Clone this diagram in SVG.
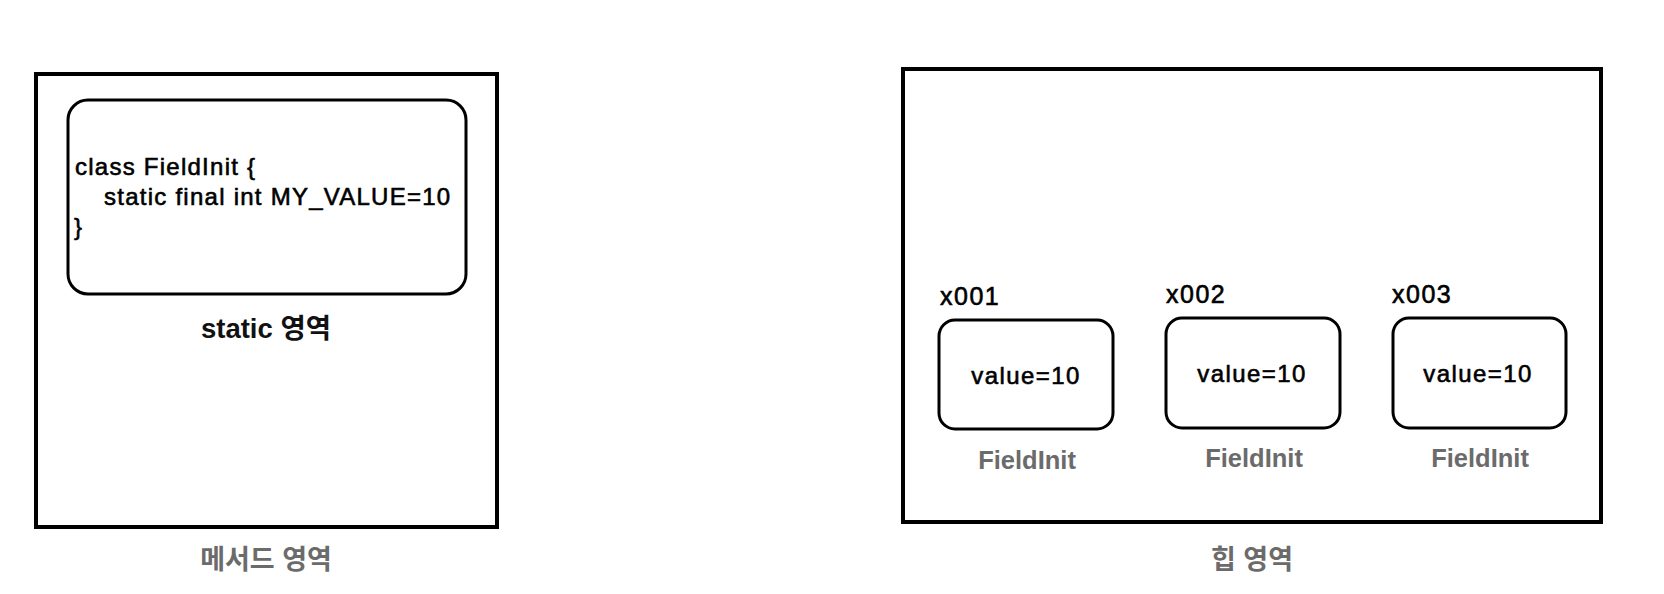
<svg xmlns="http://www.w3.org/2000/svg" width="1664" height="594" viewBox="0 0 1664 594">
<style>
.frame{fill:#fff;stroke:#000;stroke-width:4}
.box{fill:#fff;stroke:#000;stroke-width:3}
.code{font-family:"Liberation Sans",Arial,sans-serif;font-size:24px;fill:#000;stroke:#000;stroke-width:0.6px;letter-spacing:1.25px}
.addr{font-family:"Liberation Sans",Arial,sans-serif;font-size:25px;fill:#000;stroke:#000;stroke-width:0.6px;letter-spacing:1.5px}
.val{font-family:"Liberation Sans",Arial,sans-serif;font-size:24px;fill:#000;stroke:#000;stroke-width:0.6px;letter-spacing:1.4px;text-anchor:middle}
.cls{font-family:"Liberation Sans",Arial,sans-serif;font-size:25.5px;font-weight:bold;fill:#6b6b6b;text-anchor:middle}
.title{font-family:"Liberation Sans","Noto Sans CJK KR",sans-serif;font-size:27.5px;font-weight:bold;fill:#111;text-anchor:middle}
.area{font-family:"Liberation Sans","Noto Sans CJK KR",sans-serif;font-size:27px;font-weight:bold;fill:#6b6b6b;text-anchor:middle}
</style>
<rect width="1664" height="594" fill="#fff"/>
<g id="method-area">
<rect class="frame" x="36" y="74" width="461" height="453"/>
<text class="area" x="266" y="569">메서드 영역</text>
</g>
<g id="static-area">
<rect class="box" x="68" y="100" width="398" height="194" rx="20" ry="20"/>
<text class="code" x="75" y="175">class FieldInit {</text>
<text class="code" x="104" y="205">static final int MY_VALUE=10</text>
<text class="code" x="74" y="235">}</text>
<text class="title" x="266" y="338">static 영역</text>
</g>
<g id="heap-area">
<rect class="frame" x="903" y="69" width="698" height="453"/>
<text class="area" x="1252" y="569">힙 영역</text>
</g>
<g id="obj-x001">
<text class="addr" x="940" y="305">x001</text>
<rect class="box" x="939" y="320" width="174" height="109" rx="16" ry="16"/>
<text class="val" x="1026" y="384">value=10</text>
<text class="cls" x="1027" y="469">FieldInit</text>
</g>
<g id="obj-x002">
<text class="addr" x="1166" y="303">x002</text>
<rect class="box" x="1166" y="318" width="174" height="110" rx="16" ry="16"/>
<text class="val" x="1252" y="382">value=10</text>
<text class="cls" x="1254" y="467">FieldInit</text>
</g>
<g id="obj-x003">
<text class="addr" x="1392" y="303">x003</text>
<rect class="box" x="1393" y="318" width="173" height="110" rx="16" ry="16"/>
<text class="val" x="1478" y="382">value=10</text>
<text class="cls" x="1480" y="467">FieldInit</text>
</g>
<g id="connectors"></g>
</svg>
